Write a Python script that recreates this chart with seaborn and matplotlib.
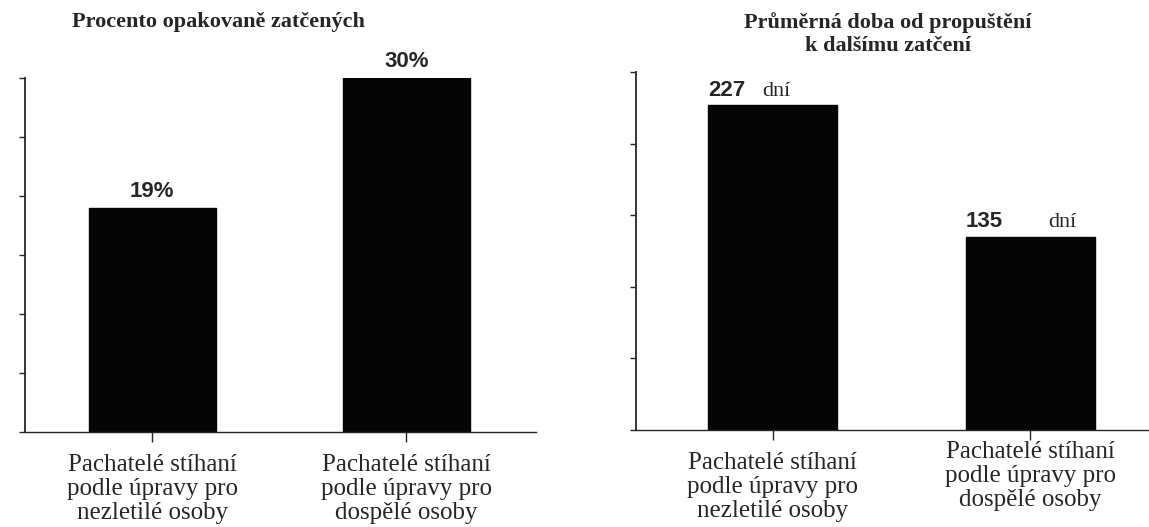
import matplotlib
matplotlib.use("Agg")
import matplotlib.pyplot as plt
import matplotlib.transforms as mtransforms
import seaborn as sns
import pandas as pd

# ---- data ----
categories = ["Pachatelé stíhaní\npodle úpravy pro\nnezletilé osoby",
              "Pachatelé stíhaní\npodle úpravy pro\ndospělé osoby"]
rearrest_pct = [19, 30]
days_to_rearrest = [227, 135]
title_left = "Procento opakovaně zatčených"
title_right = "Průměrná doba od propuštění\nk dalšímu zatčení"

sns.set_style("ticks")
plt.rcParams["font.family"] = ["Liberation Serif", "DejaVu Serif"]

fig = plt.figure(figsize=(11.49, 5.27), dpi=100)
W, H = 1149, 527
ax1 = fig.add_axes([25 / W, (H - 432) / H, 511 / W, 354 / H])
ax2 = fig.add_axes([636 / W, (H - 430) / H, 513 / W, 358 / H])

df1 = pd.DataFrame({"cat": categories, "val": rearrest_pct})
df2 = pd.DataFrame({"cat": categories, "val": days_to_rearrest})

sns.barplot(data=df1, x="cat", y="val", ax=ax1, color="#050505",
            width=0.5, saturation=1, edgecolor="#050505")
sns.barplot(data=df2, x="cat", y="val", ax=ax2, color="#050505",
            width=0.5, saturation=1, edgecolor="#050505")

ax1.set_ylim(0, 30)
ax1.set_yticks(range(0, 31, 5))
ax1.set_xlim(-0.5, 1.51)
ax2.set_ylim(0, 250)
ax2.set_yticks(range(0, 251, 50))
ax2.set_xlim(-0.53, 1.46)

for ax in (ax1, ax2):
    ax.set_xlabel("")
    ax.set_ylabel("")
    ax.set_yticklabels([])
    for s in ("top", "right"):
        ax.spines[s].set_visible(False)
    ax.spines["left"].set_linewidth(1.3)
    ax.spines["bottom"].set_linewidth(1.0)
    ax.spines["bottom"].set_linestyle((0, (6, 1)))
    ax.tick_params(axis="y", length=4, width=1, direction="out")
    ax.tick_params(axis="x", length=7, width=1, direction="out", pad=9,
                   labelsize=18)
    for lab in ax.get_xticklabels():
        lab.set_linespacing(1.12)

# the right chart's second label sits a little higher in the scan
lab = ax2.get_xticklabels()[1]
lab.set_transform(lab.get_transform() +
                  mtransforms.ScaledTranslation(0, 11 / 100, fig.dpi_scale_trans))

# value labels
sans_bold = dict(family=["Liberation Sans", "DejaVu Sans"], weight="bold", fontsize=16)
for i, v in enumerate(rearrest_pct):
    ax1.text(i, v + 0.5, f"{v}%", ha="center", va="bottom", **sans_bold)
dni_offset = [0.21, 0.32]
for i, v in enumerate(days_to_rearrest):
    ax2.text(i - 0.25, v + 3, f"{v}", ha="left", va="bottom", **sans_bold)
    ax2.text(i - 0.25 + dni_offset[i], v + 3, "dní",
             ha="left", va="bottom", fontsize=16)

# titles
fig.text(218 / W, 1 - 22 / H, title_left, ha="center", va="center",
         fontsize=16, weight="bold")
fig.text(888 / W, 1 - 34 / H, title_right, ha="center", va="center",
         fontsize=16, weight="bold", linespacing=1.15)

fig.savefig("out.png", dpi=100)
